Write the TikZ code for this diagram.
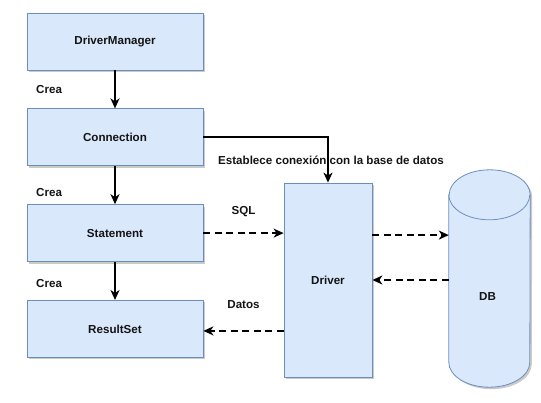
\documentclass[tikz,border=0pt]{standalone}
\usepackage{fontspec}
\setmainfont{Liberation Sans}
\usetikzlibrary{arrows.meta, positioning, shadows, calc}
\definecolor{boxblue}{RGB}{218, 232, 252}
\definecolor{borderblue}{RGB}{108, 142, 191}
\definecolor{darkgray}{RGB}{20, 20, 20}

\begin{document}
\begin{tikzpicture}[
    x=1pt, y=-1pt,
    node distance=38pt,
    every node/.style={font=\fontsize{11.6}{13}\selectfont\bfseries, text=darkgray},
    component/.style={rectangle, minimum width=176pt, minimum height=57pt, text centered, draw=borderblue, fill=boxblue, line width=0.8pt, drop shadow={shadow xshift=2pt, shadow yshift=-2pt, opacity=0.35, fill=black!60}},
    driverbox/.style={component, minimum width=88pt, minimum height=194pt},
    arrow/.style={line width=2pt, -{Stealth[length=10pt, width=9pt, inset=3pt]}, draw=black},
    dasharrow/.style={arrow, line width=2.2pt, dash pattern=on 7pt off 4.5pt},
    crea/.style={left=52pt, inner sep=0pt}
]
\useasboundingbox (0,0) rectangle (541,402);

\node (manager) [component] at (115,41.5) {DriverManager};
\node (connection) [component, below=of manager] {Connection};
\node (statement) [component, below=of connection] {Statement};
\node (resultset) [component, below=of statement] {ResultSet};
\node (driver) [driverbox] at (328,280) {Driver};
\node (db) [minimum width=81pt, minimum height=217pt, inner sep=0pt] at (489.5,278.5) {};

\fill [black!60, opacity=0.35] ($(db.north west)+(2,27)$) -- ($(db.south west)+(2,-23)$) arc[start angle=180, end angle=360, x radius=40.5pt, y radius=25pt] -- ($(db.north east)+(2,27)$) arc[start angle=0, end angle=180, x radius=40.5pt, y radius=25pt] -- cycle;
\filldraw [fill=boxblue, draw=borderblue, line width=0.8pt] ($(db.north west)+(0,25)$) -- ($(db.south west)+(0,-25)$) arc[start angle=180, end angle=360, x radius=40.5pt, y radius=25pt] -- ($(db.north east)+(0,25)$) arc[start angle=0, end angle=180, x radius=40.5pt, y radius=25pt] -- cycle;
\draw [draw=borderblue, line width=0.8pt] ($(db.north west)+(0,25)$) arc[start angle=180, end angle=360, x radius=40.5pt, y radius=25pt];
\node at ($(db.center)+(-2,18)$) {DB};

\draw [arrow] (manager) -- node [crea] {Crea} (connection);
\draw [arrow] (connection) -- node [crea, yshift=-7pt] {Crea} (statement);
\draw [arrow] (statement) -- node [crea, yshift=-3pt] {Crea} (resultset);
\draw [arrow] (connection.east) -| (driver.north);
\node [above=14pt of driver.north, xshift=3pt] {Establece conexión con la base de datos};

\draw [dasharrow] (statement.east) -- node [above=12pt] {SQL} (statement -| driver.west);
\draw [dasharrow] ($(driver.east |- statement)+(0,2)$) -- ($(db.west |- statement)+(0,2)$);
\draw [dasharrow] (db.west |- driver) -- (driver.east);
\draw [dasharrow] ($(driver.west |- resultset)+(0,2)$) -- node [above=18pt] {Datos} ($(resultset.east)+(0,2)$);

\end{tikzpicture}
\end{document}
